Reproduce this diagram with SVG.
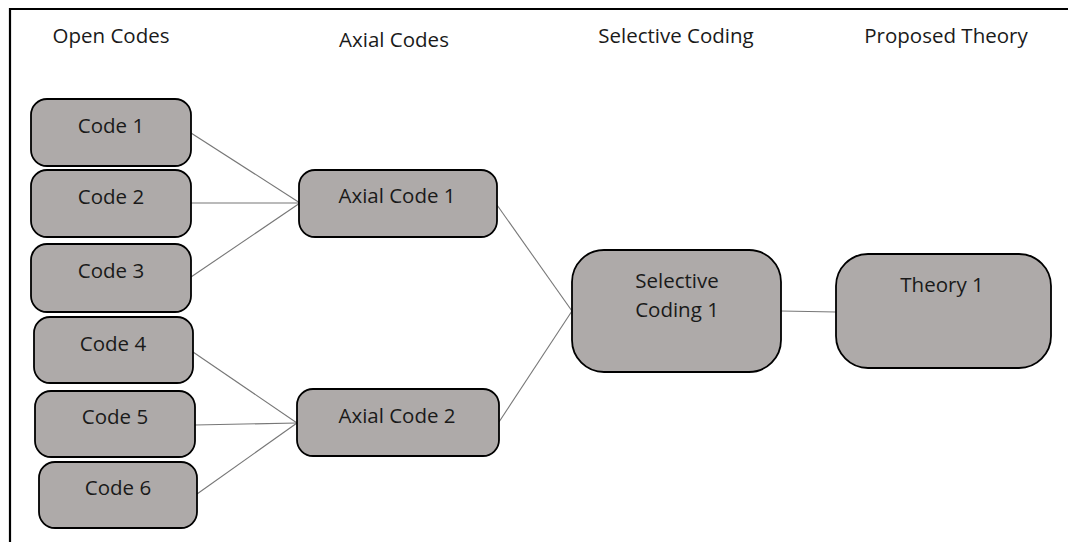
<svg xmlns="http://www.w3.org/2000/svg" width="1068" height="542" viewBox="0 0 1068 542">
<style>
.hdr{font-family:"Open Sans","Liberation Sans",sans-serif;font-size:20.5px;fill:#1a1a1a;text-anchor:middle}
.lbl{font-family:"Open Sans","Liberation Sans",sans-serif;font-size:20.5px;fill:#1a1a1a;text-anchor:middle}
.box{fill:#aeaaa9;stroke:#000;stroke-width:1.8}
.con line{stroke:#777;stroke-width:1.1}
</style>
<rect width="1068" height="542" fill="#fff"/>
<path d="M10,542 V9 H1068" fill="none" stroke="#000" stroke-width="2.2"/>
<g id="headers">
<text class="hdr" x="111" y="43">Open Codes</text>
<text class="hdr" x="394" y="47">Axial Codes</text>
<text class="hdr" x="676" y="43">Selective Coding</text>
<text class="hdr" x="946" y="43">Proposed Theory</text>
</g>
<g id="connectors" class="con">
<line x1="191" y1="133" x2="300" y2="203"/>
<line x1="191" y1="203" x2="300" y2="203"/>
<line x1="191" y1="277" x2="300" y2="203"/>
<line x1="193" y1="352" x2="297" y2="423"/>
<line x1="195" y1="425" x2="297" y2="423"/>
<line x1="197" y1="494" x2="297" y2="423"/>
<line x1="497" y1="205" x2="572" y2="311"/>
<line x1="499" y1="422" x2="572" y2="311"/>
<line x1="781" y1="311" x2="836" y2="312"/>
</g>
<g id="code1"><rect class="box" x="31" y="99" width="160" height="67" rx="16"/><text class="lbl" x="111" y="133">Code 1</text></g>
<g id="code2"><rect class="box" x="31" y="170" width="160" height="67" rx="16"/><text class="lbl" x="111" y="204">Code 2</text></g>
<g id="code3"><rect class="box" x="31" y="244" width="160" height="68" rx="16"/><text class="lbl" x="111" y="278">Code 3</text></g>
<g id="code4"><rect class="box" x="34" y="317" width="159" height="66" rx="16"/><text class="lbl" x="113" y="351">Code 4</text></g>
<g id="code5"><rect class="box" x="35" y="391" width="160" height="66" rx="16"/><text class="lbl" x="115" y="424">Code 5</text></g>
<g id="code6"><rect class="box" x="39" y="462" width="158" height="66" rx="16"/><text class="lbl" x="118" y="495">Code 6</text></g>
<g id="axial1"><rect class="box" x="299" y="170" width="198" height="67" rx="16"/><text class="lbl" x="397" y="203">Axial Code 1</text></g>
<g id="axial2"><rect class="box" x="297" y="389" width="202" height="67" rx="16"/><text class="lbl" x="397" y="423">Axial Code 2</text></g>
<g id="selective1"><rect class="box" x="572" y="250" width="209" height="122" rx="32"/><text class="lbl" x="677" y="288">Selective</text><text class="lbl" x="677" y="317">Coding 1</text></g>
<g id="theory1"><rect class="box" x="836" y="254" width="215" height="114" rx="32"/><text class="lbl" x="942" y="292">Theory 1</text></g>
</svg>
